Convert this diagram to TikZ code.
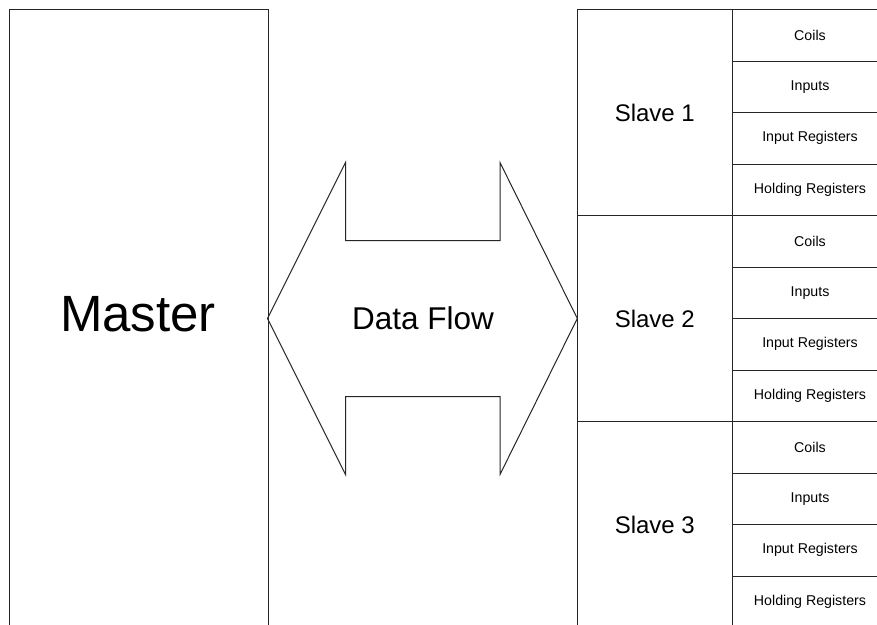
\documentclass[tikz,border=0pt]{standalone}
\usepackage{fontspec}
\setmainfont{Liberation Sans}
\begin{document}
\begin{tikzpicture}[x=1pt,y=-1pt,
  line width=1pt,
  box/.style={draw=black!85, fill=white, inner sep=0pt, outer sep=0pt, anchor=north west},
  bigtxt/.style={font=\fontsize{51}{51}\selectfont},
  midtxt/.style={font=\fontsize{31.5}{32}\selectfont},
  slvtxt/.style={font=\fontsize{24}{24}\selectfont},
  celltxt/.style={font=\fontsize{14.2}{14}\selectfont}]
\useasboundingbox (0,0) rectangle (877,624);
\clip (0,0) rectangle (877,624);
\fill[white] (0,0) rectangle (877,624);
% Master
\node[box, minimum width=258.5pt, minimum height=625pt] (master) at (9.5,9.5) {};
\node[bigtxt] (mlabel) at (138,314) {Master};
% Data flow arrow
\draw[draw=black!85, line join=miter] (267.5,318.5) -- (345.5,162.5) -- (345.5,240.5) -- (500,240.5) -- (500,162.5) -- (577.3,318.5)
  -- (500,474.5) -- (500,396.5) -- (345.5,396.5) -- (345.5,474.5) -- cycle;
\node[midtxt] (flow) at (423,318) {Data Flow};
% Slaves
\foreach \s/\y in {1/9.5, 2/215.5, 3/421.5} {
  \node[box, minimum width=155pt, minimum height=206pt] (slave\s) at (577.3,\y) {};
  \node[slvtxt] (slabel\s) at (slave\s.center) {Slave \s};
  \foreach \r/\t [count=\i from 0] in {a/Coils, b/Inputs, c/Input Registers, d/Holding Registers} {
    \node[box, minimum width=160pt, minimum height=51.5pt] (cell\s\r) at (732.3,\y+51.5*\i) {};
    \node[celltxt] (ctext\s\r) at (810,\y+51.5*\i+25.75) {\t};
  }
}
\end{tikzpicture}
\end{document}
